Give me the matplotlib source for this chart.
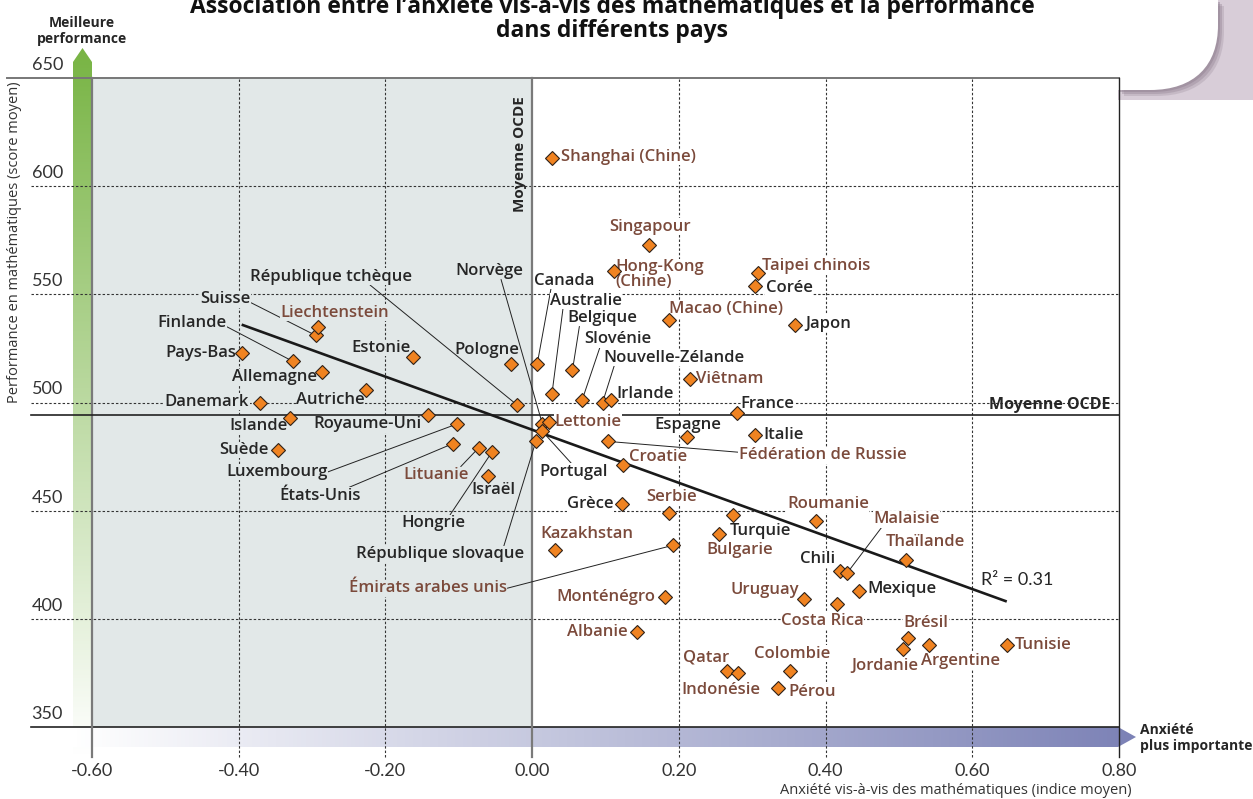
import numpy as np
import matplotlib
matplotlib.use('Agg')
import matplotlib.pyplot as plt
from matplotlib.patches import Polygon, PathPatch, Rectangle
from matplotlib.path import Path
from matplotlib.colors import LinearSegmentedColormap

plt.rcParams['font.family'] = ['Open Sans', 'DejaVu Sans']

# --- data: PISA 2012, anxiety index vs mean maths score ---
oecd = ['Suisse', 'Finlande', 'Pays-Bas', 'Allemagne', 'Estonie', 'Pologne',
        'Danemark', 'Autriche', 'République tchèque', 'Norvège', 'Islande',
        'Royaume-Uni', 'Suède', 'Luxembourg', 'États-Unis', 'Israël', 'Hongrie',
        'République slovaque', 'Portugal', 'Canada', 'Australie', 'Belgique',
        'Slovénie', 'Nouvelle-Zélande', 'Irlande', 'France', 'Espagne', 'Italie',
        'Grèce', 'Turquie', 'Chili', 'Mexique', 'Japon', 'Corée']
oecd_anx = [-0.295, -0.326, -0.395, -0.286, -0.162, -0.029,
            -0.371, -0.227, -0.021, 0.014, -0.330,
            -0.142, -0.347, -0.103, -0.108, -0.060, -0.055,
            0.005, 0.013, 0.007, 0.027, 0.055,
            0.068, 0.096, 0.108, 0.279, 0.211, 0.304,
            0.123, 0.274, 0.419, 0.446, 0.358, 0.304]
oecd_score = [531, 519, 523, 514, 521, 518,
              500, 506, 499, 490, 493,
              494, 478, 490, 481, 466, 477,
              482, 487, 518, 504, 515,
              501, 500, 501, 495, 484, 485,
              453, 448, 422, 413, 536, 554]

partners = ['Shanghai (Chine)', 'Singapour', 'Hong-Kong\n(Chine)', 'Taipei chinois',
            'Macao (Chine)', 'Liechtenstein', 'Viêtnam', 'Lettonie',
            'Fédération de Russie', 'Croatie', 'Serbie', 'Lituanie', 'Kazakhstan',
            'Émirats arabes unis', 'Monténégro', 'Albanie', 'Bulgarie', 'Roumanie',
            'Malaisie', 'Thaïlande', 'Uruguay', 'Costa Rica', 'Brésil', 'Argentine',
            'Jordanie', 'Tunisie', 'Qatar', 'Indonésie', 'Colombie', 'Pérou']
partner_anx = [0.027, 0.159, 0.112, 0.308,
               0.187, -0.292, 0.215, 0.023,
               0.104, 0.124, 0.186, -0.073, 0.031,
               0.192, 0.181, 0.143, 0.255, 0.387,
               0.429, 0.510, 0.370, 0.416, 0.512, 0.541,
               0.505, 0.647, 0.266, 0.281, 0.351, 0.335]
partner_score = [613, 573, 561, 560,
                 538, 535, 511, 491,
                 482, 471, 449, 479, 432,
                 434, 410, 394, 439, 445,
                 421, 427, 409, 407, 391, 388,
                 386, 388, 376, 375, 376, 368]

oecd_mean_anx = 0.0
oecd_mean_score = 494
fit_x = [-0.396, 0.647]
fit_y = [536, 408]
r2_text = 'R² = 0.31'

x_ticks = [-0.6, -0.4, -0.2, 0.0, 0.2, 0.4, 0.6, 0.8]
y_ticks = [350, 400, 450, 500, 550, 600, 650]

# label offsets from the marker in pixels (dx, dy up), leader start (relpos) or None
layout = {
    'Suisse': (-90, 36, (1, 0.3)), 'Finlande': (-101, 38, (1, 0.3)),
    'Pays-Bas': (-42, 0, None), 'Allemagne': (-48, -5, None),
    'Estonie': (-32, 9, None), 'Pologne': (-24, 14, None),
    'Danemark': (-53, 1, None), 'Autriche': (-35, -10, None),
    'République tchèque': (-186, 128, (0.74, 0)), 'Norvège': (-53, 153, (0.67, 0)),
    'Islande': (-32, -8, None), 'Royaume-Uni': (-61, -9, None),
    'Suède': (-34, 0, None), 'Luxembourg': (-180, -48, (1, 0.5)),
    'États-Unis': (-133, -52, (0.85, 1)), 'Israël': (5, -14, None),
    'Hongrie': (-58, -71, (0.75, 1)), 'République slovaque': (-96, -113, (0.88, 1)),
    'Portugal': (32, -41, (0.47, 1)), 'Canada': (27, 83, (0.28, 0)),
    'Australie': (34, 93, (0.18, 0)), 'Belgique': (30, 52, (0.17, 0)),
    'Slovénie': (36, 61, (0.23, 0)), 'Nouvelle-Zélande': (71, 45, (0.08, 0)),
    'Irlande': (34, 6, None), 'France': (31, 9, None), 'Espagne': (1, 12, None),
    'Italie': (28, 0, None), 'Grèce': (-32, 0, None), 'Turquie': (27, -16, None),
    'Chili': (-22, 12, None), 'Mexique': (43, 2, None), 'Japon': (33, 1, None),
    'Corée': (34, -2, None),
    'Shanghai (Chine)': (76, 1, None), 'Singapour': (1, 18, None),
    'Hong-Kong\n(Chine)': (45, -4, None), 'Taipei chinois': (58, 7, None),
    'Macao (Chine)': (57, 11, None), 'Liechtenstein': (17, 14, None),
    'Viêtnam': (40, 0, None), 'Lettonie': (39, 0, None),
    'Fédération de Russie': (214, -14, (0, 0.7)), 'Croatie': (35, 8, None),
    'Serbie': (3, 16, None), 'Lituanie': (-43, -27, (0.88, 1)),
    'Kazakhstan': (32, 16, None), 'Émirats arabes unis': (-245, -43, (1, 0.5)),
    'Monténégro': (-59, 0, None), 'Albanie': (-40, 0, None),
    'Bulgarie': (20, -16, None), 'Roumanie': (12, 17, None),
    'Malaisie': (60, 54, (0.12, 0)), 'Thaïlande': (19, 18, None),
    'Uruguay': (-39, 9, None), 'Costa Rica': (-15, -17, None),
    'Brésil': (18, 15, None), 'Argentine': (31, -16, None),
    'Jordanie': (-18, -17, None), 'Tunisie': (36, 0, None),
    'Qatar': (-21, 13, None), 'Indonésie': (-17, -17, None),
    'Colombie': (2, 17, None), 'Pérou': (34, -4, None),
}

dark = '#262626'
brown = '#7b4a3b'
shade = '#e2e8e8'
orange = '#f08321'
num_font = ['Lato', 'DejaVu Sans']

W, H = 1253, 799
fig = plt.figure(figsize=(W / 100, H / 100), dpi=100)

# background layer in pixel coordinates (arrows, page decoration)
bg = fig.add_axes([0, 0, 1, 1], zorder=0)
bg.set_xlim(0, W)
bg.set_ylim(H, 0)
bg.axis('off')

bg.add_patch(Rectangle((1118, 0), 140, 100, facecolor='#d8cdd8', edgecolor='none'))
corner = Path([(1118, 0), (1218, 0), (1218, 25), (1218, 65), (1195, 90), (1150, 90),
               (1118, 90), (1118, 0)],
              [Path.MOVETO, Path.LINETO, Path.LINETO, Path.CURVE4, Path.CURVE4,
               Path.CURVE4, Path.LINETO, Path.CLOSEPOLY])
for off, a in [(6, 0.25), (4, 0.35), (2, 0.45)]:
    sh = PathPatch(corner, facecolor='#8f7f90', edgecolor='none', alpha=a)
    sh.set_transform(matplotlib.transforms.Affine2D().translate(off, off) + bg.transData)
    sh.set_clip_path(Rectangle((1118, 0), 140, 100, transform=bg.transData))
    bg.add_patch(sh)
bg.add_patch(PathPatch(corner, facecolor='white', edgecolor='none'))

grad = np.linspace(0, 1, 256)
green_poly = Polygon([(73, 755), (73, 62), (82.5, 48), (92, 62), (92, 755)],
                     closed=True, facecolor='none', edgecolor='none')
bg.add_patch(green_poly)
gim = bg.imshow(grad[:, None], cmap=LinearSegmentedColormap.from_list('g', ['white', '#78b444']),
                extent=(73, 92, 755, 48), origin='lower', aspect='auto')
gim.set_clip_path(green_poly)

blue_poly = Polygon([(73, 727), (1118, 727), (1136, 737), (1118, 747), (73, 747)],
                    closed=True, facecolor='none', edgecolor='none')
bg.add_patch(blue_poly)
bim = bg.imshow(grad[None, :], cmap=LinearSegmentedColormap.from_list('b', ['white', '#7c82b6']),
                extent=(73, 1136, 747, 727), origin='lower', aspect='auto')
bim.set_clip_path(blue_poly)
bg.set_xlim(0, W)
bg.set_ylim(H, 0)

# main chart
ax = fig.add_axes([92 / W, 1 - 727 / H, 1027 / W, 649 / H], zorder=1)
ax.set_xlim(-0.6, 0.8)
ax.set_ylim(350, 650)
ax.axis('off')

x_low, y_low, x_top = -0.683, 336, -0.716
ax.axvspan(-0.6, oecd_mean_anx, ymin=0, ymax=1, color=shade, lw=0, zorder=0)

grid_kw = dict(color='#333333', lw=0.8, ls=(0, (2.2, 1.8)), clip_on=False, zorder=1)
for xv in x_ticks[1:-1]:
    if xv != oecd_mean_anx:
        ax.plot([xv, xv], [y_low, 650], **grid_kw)
for yv in y_ticks[1:-1]:
    ax.plot([x_low, 0.8], [yv, yv], **grid_kw)

ax.plot([x_top, 0.8], [650, 650], color='#777777', lw=1.4, clip_on=False, zorder=2)
ax.plot([x_low, 0.8], [350, 350], color='#222222', lw=1.2, clip_on=False, zorder=2)
ax.plot([0.8, 0.8], [y_low, 650], color='#222222', lw=1.0, clip_on=False, zorder=2)
ax.plot([-0.6, -0.6], [y_low, 650], color='#7a7a7a', lw=1.6, clip_on=False, zorder=2)
ax.plot([oecd_mean_anx] * 2, [y_low, 650], color='#7a7a7a', lw=1.6, clip_on=False, zorder=2)
ax.plot([x_low, 0.8], [oecd_mean_score] * 2, color='#222222', lw=1.2, clip_on=False, zorder=2)

ax.text(0.788, oecd_mean_score + 5, 'Moyenne OCDE', ha='right', va='center',
        fontsize=11.5, fontweight='bold', color=dark, zorder=3)
ax.text(-0.017, 615, 'Moyenne OCDE', rotation=90, ha='center', va='center',
        fontsize=11, fontweight='bold', color=dark, zorder=3)

# tick labels
for yv in y_ticks:
    ax.annotate(str(yv), xy=(-0.6, yv), xytext=(-29, 13), textcoords='offset pixels',
                ha='right', va='center', fontsize=13, family=num_font, color='#333333',
                annotation_clip=False)
for xv in x_ticks:
    ax.annotate('%.2f' % xv, xy=(xv, 350), xytext=(0, -44), textcoords='offset pixels',
                ha='center', va='center', fontsize=13, family=num_font, color='#333333',
                annotation_clip=False)

# regression line
ax.plot(fit_x, fit_y, color='#1a1a1a', lw=1.9, zorder=4, solid_capstyle='butt')
ax.text(0.612, 418, r2_text, ha='left', va='center', fontsize=13, family=num_font,
        color=dark, zorder=4)

# points and labels
ax.plot(oecd_anx + partner_anx, oecd_score + partner_score, ls='none', marker='D', ms=7,
        mfc=orange, mec='#2e2118', mew=0.8, zorder=5)

x0_pix = ax.transData.transform((oecd_mean_anx, 500))[0]
groups = [(oecd, oecd_anx, oecd_score, dark, 'semibold'),
          (partners, partner_anx, partner_score, brown, 'semibold')]
for names, xs, ys, col, wt in groups:
    for name, xv, yv in zip(names, xs, ys):
        dx, dy, rel = layout[name]
        lx = ax.transData.transform((xv, yv))[0] + dx
        face = shade if lx < x0_pix else 'white'
        arrow = None
        if rel is not None:
            arrow = dict(arrowstyle='-', color='#222222', lw=0.7, shrinkA=0, shrinkB=0,
                         relpos=rel)
        ax.annotate(name, xy=(xv, yv), xytext=(dx, dy), textcoords='offset pixels',
                    ha='center', va='center', ma='left', fontsize=12, fontweight=wt,
                    color=col, linespacing=0.9, zorder=3, arrowprops=arrow,
                    bbox=dict(boxstyle='square,pad=0.02', fc=face, ec='none'))

# titles and axis texts
fig.text(612 / W, 1 - 13 / H, "Association entre l’anxiété vis-à-vis des mathématiques et la performance",
         ha='center', va='baseline', fontsize=16.5, fontweight='bold', color='#111111')
fig.text(612 / W, 1 - 37 / H, 'dans différents pays', ha='center', va='baseline',
         fontsize=16.5, fontweight='bold', color='#111111')
fig.text(82 / W, 1 - 31 / H, 'Meilleure\nperformance', ha='center', va='center',
         fontsize=10, fontweight='bold', color=dark, linespacing=1.2)
fig.text(15 / W, 1 - 242 / H, 'Performance en mathématiques (score moyen)', rotation=90,
         ha='center', va='center', fontsize=10.5, color='#333333')
fig.text(956 / W, 1 - 790 / H, 'Anxiété vis-à-vis des mathématiques (indice moyen)',
         ha='center', va='center', fontsize=10.5, color='#333333')
fig.text(1140 / W, 1 - 738 / H, 'Anxiété\nplus importante', ha='left', va='center',
         fontsize=10, fontweight='bold', color=dark, linespacing=1.2)

fig.savefig('out.png', dpi=100)
